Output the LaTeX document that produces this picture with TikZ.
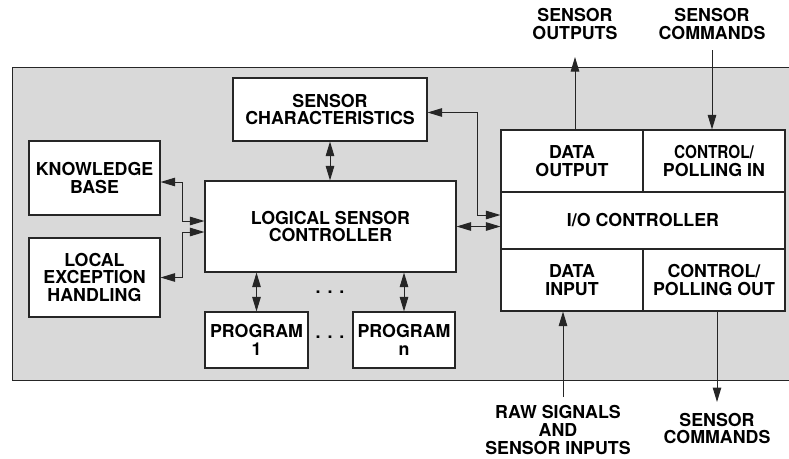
\documentclass[tikz,border=0pt]{standalone}
\usepackage{fontspec}
\usepackage{graphicx}
\setmainfont{TeX Gyre Heros}
\usetikzlibrary{arrows.meta,calc}

\tikzset{
  box/.style={draw=black!85, line width=1.1pt, fill=white, align=center,
              inner sep=0pt, font=\fontsize{17.8}{17.6}\selectfont\bfseries},
  lbl/.style={align=center, inner sep=0pt, font=\fontsize{17.8}{17.6}\selectfont\bfseries},
  wire/.style={draw=black!85, line width=1pt},
  tip/.tip={Triangle[length=14.5pt,width=8.5pt]},
  both/.style={wire, tip-tip},
  fwd/.style={wire, -tip},
}

\newcommand{\dotrow}{.\hspace{7pt}.\hspace{7pt}.}

\begin{document}
\begin{tikzpicture}[x=1pt, y=-1pt]
  \useasboundingbox (0,0) rectangle (789,458);

  % shaded panel holding the sensor system
  \fill[black!15] (12,67) rectangle (800,380);
  \draw[black!85, line width=1pt] (800,67) -- (12,67) -- (12,380) -- (800,380);

  % left column
  \node[box, minimum width=194pt, minimum height=63pt] (sc)  at (330,109.5) {SENSOR\\CHARACTERISTICS};
  \node[box, minimum width=131pt, minimum height=74pt] (kb)  at (94.5,178) {KNOWLEDGE\\BASE};
  \node[box, minimum width=131pt, minimum height=79pt] (le)  at (94.5,277.5) {LOCAL\\EXCEPTION\\HANDLING};
  \node[box, minimum width=251pt, minimum height=91pt] (lsc) at (330.5,226.5) {LOGICAL SENSOR\\CONTROLLER};
  \node[box, minimum width=103pt, minimum height=56pt] (p1)  at (256.5,340) {PROGRAM\\1};
  \node[box, minimum width=102pt, minimum height=56pt] (pn)  at (404,340) {PROGRAM\\n};
  \node[lbl] (dots1) at (330,292) {\dotrow};
  \node[lbl] (dots2) at (330,337) {\dotrow};

  % I/O block
  \node[box, minimum width=142pt, minimum height=62pt] (do) at (572,161) {DATA\\OUTPUT};
  \node[box, minimum width=142pt, minimum height=62pt] (cp) at (714,161) {\scalebox{0.86}[1]{CONTROL/}\\POLLING IN};
  \node[box, minimum width=284pt, minimum height=57pt] (io) at (643,220.5) {I/O CONTROLLER};
  \node[box, minimum width=142pt, minimum height=62pt] (di) at (572,280) {DATA\\INPUT};
  \node[box, minimum width=142pt, minimum height=62pt] (co) at (714,280) {CONTROL/\\POLLING OUT};

  % external labels
  \node[lbl] (souts) at (575,24)  {SENSOR\\OUTPUTS};
  \node[lbl] (scin)  at (712,24)  {SENSOR\\COMMANDS};
  \node[lbl] (raw)   at (558,430) {RAW SIGNALS\\AND\\SENSOR INPUTS};
  \node[lbl] (scout) at (717,428.5) {SENSOR\\COMMANDS};

  \coordinate (soTip)  at (575,57);
  \coordinate (ciTail) at (712,50);
  \coordinate (rwTail) at (563,397);
  \coordinate (coTip)  at (717,402);

  % internal connections
  \draw[both] (sc.south) -- (sc.south |- lsc.north);
  \draw[both] ([yshift=-3pt]sc.east) -- ++(50,0) |- ([yshift=5.5pt]io.west);
  \draw[both] (lsc.east) -- (lsc.east -| io.west);
  \draw[both] ([yshift=-4pt]kb.east) -- ++(22,0) |- ([yshift=5.5pt]lsc.west);
  \draw[both] (le.east) -- ++(22,0) |- ([yshift=-5.5pt]lsc.west);
  \draw[both] (p1.north) -- (p1.north |- lsc.south);
  \draw[both] (pn.north) -- (pn.north |- lsc.south);

  % external signals
  \draw[fwd] (do.north -| soTip) -- (soTip);
  \draw[fwd] (ciTail) -- (ciTail |- cp.north);
  \draw[fwd] (rwTail) -- (rwTail |- di.south);
  \draw[fwd] (co.south -| coTip) -- (coTip);
\end{tikzpicture}
\end{document}
